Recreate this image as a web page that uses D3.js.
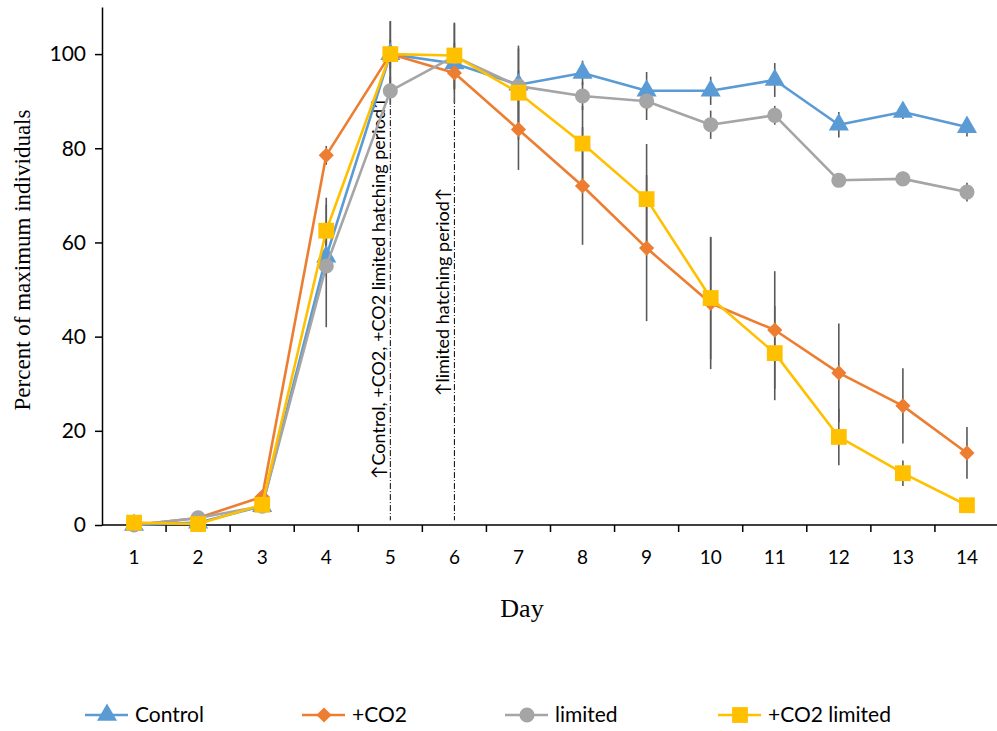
<!DOCTYPE html>
<html>
<head>
<meta charset="utf-8">
<script src="https://cdn.jsdelivr.net/npm/d3@7"></script>
<style>
  body { margin: 0; background: #fff; }
</style>
</head>
<body>
<div id="chart"></div>
<script>
var days = [1, 2, 3, 4, 5, 6, 7, 8, 9, 10, 11, 12, 13, 14];
var yTicks = [0, 20, 40, 60, 80, 100];

var seriesNames = ['Control', '+CO2', 'limited', '+CO2 limited'];
var controlVals = [0, 0.5, 4, 57, 100, 98, 93.5, 96, 92.2, 92.2, 94.5, 85, 87.7, 84.5];
var co2Vals = [0, 1.5, 6, 78.5, 100, 96, 84, 72, 58.8, 47.1, 41.4, 32.3, 25.3, 15.3];
var limitedVals = [0, 1.5, 4, 55, 92.2, 99.5, 93.2, 91.1, 90, 85, 87, 73.2, 73.5, 70.7];
var co2LimitedVals = [0.5, 0.2, 4.3, 62.5, 100, 99.7, 91.8, 81, 69.2, 48.2, 36.5, 18.7, 11, 4.2];

var controlErr = [0, 0.5, 1, 4, 3, 2, 3, 2.6, 4, 3, 3.6, 2.7, 1.5, 2];
var co2Err = [0, 0.5, 1, 2, 7, 6.4, 8.6, 12.5, 15.5, 14, 12.5, 10.5, 8, 5.5];
var limitedErr = [0, 0.5, 1, 13, 3, 7, 8, 3, 4, 3, 2, 1.2, 1.5, 2];
var co2LimitedErr = [0, 0.5, 1, 7, 7, 7, 10, 8, 11.7, 13, 10, 6, 2.7, 1.3];

var hatchDays = [5, 6];
var hatchLabels = ['\u2191Control, +CO2, +CO2 limited hatching period\u2191', '\u2191limited hatching period\u2191'];

function drawChart() {

    var colors = ['#5B9BD5', '#ED7D31', '#A5A5A5', '#FFC000'];
    var symbols = [d3.symbolTriangle, d3.symbolSquare, d3.symbolCircle, d3.symbolSquare];
    var symSizes = [175, 115, 180, 250];
    var symRotate = [0, 45, 0, 0];

    var series = [
        { name: seriesNames[0], vals: controlVals, err: controlErr },
        { name: seriesNames[1], vals: co2Vals, err: co2Err },
        { name: seriesNames[2], vals: limitedVals, err: limitedErr },
        { name: seriesNames[3], vals: co2LimitedVals, err: co2LimitedErr }
    ];

    var svg = d3.select('#chart').append('svg')
        .attr('width', 997)
        .attr('height', 731);

    var x = d3.scaleBand()
        .domain(days)
        .range([102, 999]);

    var y = d3.scaleLinear()
        .domain([0, 110])
        .range([525, 7]);

    var cx = function(d) { return x(d) + x.bandwidth() / 2; };

    // y axis
    var yAxis = svg.append('g')
        .attr('transform', 'translate(102,0)')
        .call(d3.axisLeft(y).tickValues(yTicks).tickSize(7).tickSizeOuter(0));
    yAxis.select('.domain').attr('stroke', '#000').attr('stroke-width', 1.5);
    yAxis.selectAll('.tick line').attr('stroke', '#000').attr('stroke-width', 1.5);
    yAxis.selectAll('.tick text')
        .attr('font-family', 'Lato')
        .attr('font-size', '21px')
        .attr('fill', '#000')
        .attr('x', -16);

    // x axis, ticks between categories
    var xAxis = svg.append('g')
        .attr('transform', 'translate(0,525)');
    xAxis.append('line')
        .attr('x1', 102).attr('x2', 999)
        .attr('stroke', '#000').attr('stroke-width', 1.5);
    xAxis.selectAll('.tk')
        .data(days.slice(1))
        .enter()
        .append('line')
        .attr('x1', function(d) { return x(d); })
        .attr('x2', function(d) { return x(d); })
        .attr('y1', 0).attr('y2', 7)
        .attr('stroke', '#000').attr('stroke-width', 1.5);
    xAxis.selectAll('.lbl')
        .data(days)
        .enter()
        .append('text')
        .attr('x', cx)
        .attr('y', 39)
        .attr('text-anchor', 'middle')
        .attr('font-family', 'Lato')
        .attr('font-size', '19px')
        .text(function(d) { return d; });

    // axis titles
    svg.append('text')
        .attr('transform', 'translate(30,260) rotate(-90)')
        .attr('text-anchor', 'middle')
        .attr('font-family', 'Liberation Serif')
        .attr('font-size', '23px')
        .text('Percent of maximum individuals');

    svg.append('text')
        .attr('x', 522)
        .attr('y', 617)
        .attr('text-anchor', 'middle')
        .attr('font-family', 'Liberation Serif')
        .attr('font-size', '26px')
        .text('Day');

    // hatching period lines
    svg.selectAll('.hatch')
        .data(hatchDays)
        .enter()
        .append('line')
        .attr('x1', cx).attr('x2', cx)
        .attr('y1', y(100)).attr('y2', y(1))
        .attr('stroke', '#000')
        .attr('stroke-width', 1)
        .attr('stroke-dasharray', '6,2,1,2');

    var hatchText = [
        { day: hatchDays[0], label: hatchLabels[0], bottom: 479 },
        { day: hatchDays[1], label: hatchLabels[1], bottom: 396 }
    ];
    svg.selectAll('.htext')
        .data(hatchText)
        .enter()
        .append('text')
        .attr('transform', function(d) {
            return 'translate(' + (cx(d.day) - 5) + ',' + d.bottom + ') rotate(-90)';
        })
        .attr('font-family', 'Lato')
        .attr('font-size', '18px')
        .text(function(d) { return d.label; });

    // error bars
    series.forEach(function(s) {
        svg.append('g').selectAll('line')
            .data(days)
            .enter()
            .append('line')
            .attr('x1', cx).attr('x2', cx)
            .attr('y1', function(d, i) { return y(s.vals[i] + s.err[i]); })
            .attr('y2', function(d, i) { return y(Math.max(0, s.vals[i] - s.err[i])); })
            .attr('stroke', '#595959')
            .attr('stroke-width', 1.6);
    });

    var line = d3.line()
        .x(function(d) { return cx(d.day); })
        .y(function(d) { return y(d.v); });

    series.forEach(function(s, k) {
        var pts = days.map(function(d, i) { return { day: d, v: s.vals[i] }; });
        var g = svg.append('g');
        g.append('path')
            .attr('d', line(pts))
            .attr('fill', 'none')
            .attr('stroke', colors[k])
            .attr('stroke-width', 2.6)
            .attr('stroke-linejoin', 'round');
        g.selectAll('path.mk')
            .data(pts)
            .enter()
            .append('path')
            .attr('class', 'mk')
            .attr('transform', function(d) {
                return 'translate(' + cx(d.day) + ',' + y(d.v) + ') rotate(' + symRotate[k] + ')';
            })
            .attr('d', d3.symbol().type(symbols[k]).size(symSizes[k]))
            .attr('fill', colors[k]);
    });

    // legend
    var legX = [85, 302, 505, 718];
    var leg = svg.selectAll('.leg')
        .data(series)
        .enter()
        .append('g')
        .attr('transform', function(d, i) { return 'translate(' + legX[i] + ',715)'; });
    leg.append('line')
        .attr('x1', 0).attr('x2', 43)
        .attr('stroke', function(d, i) { return colors[i]; })
        .attr('stroke-width', 2.6);
    leg.append('path')
        .attr('transform', function(d, i) { return 'translate(22,0) rotate(' + symRotate[i] + ')'; })
        .attr('d', function(d, i) { return d3.symbol().type(symbols[i]).size(symSizes[i])(); })
        .attr('fill', function(d, i) { return colors[i]; });
    leg.append('text')
        .attr('x', 50)
        .attr('y', 7)
        .attr('font-family', 'Lato')
        .attr('font-size', '21px')
        .text(function(d) { return d.name; });
}

drawChart();
</script>
</body>
</html>
